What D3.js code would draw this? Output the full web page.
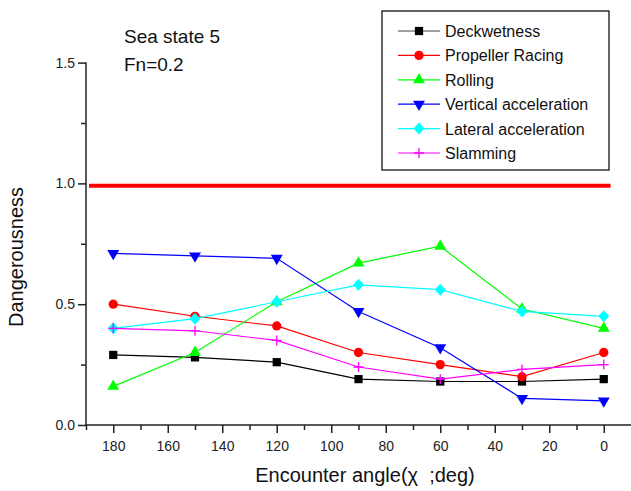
<!DOCTYPE html>
<html>
<head>
<meta charset="utf-8">
<script src="https://cdn.jsdelivr.net/npm/d3@7"></script>
<style>
  body { margin: 0; background: #fff; }
  text { font-family: "Liberation Sans", Arial, sans-serif; }
</style>
</head>
<body>
<div id="chart"></div>
<script>
const svgWidth = 631;
const svgHeight = 491;

// data
const angles = [180, 150, 120, 90, 60, 30, 0];
const deckwetness = [0.29, 0.28, 0.26, 0.19, 0.18, 0.18, 0.19];
const propellerRacing = [0.50, 0.45, 0.41, 0.30, 0.25, 0.20, 0.30];
const rolling = [0.16, 0.30, 0.51, 0.67, 0.74, 0.48, 0.40];
const verticalAcc = [0.71, 0.70, 0.69, 0.47, 0.32, 0.11, 0.10];
const lateralAcc = [0.40, 0.44, 0.51, 0.58, 0.56, 0.47, 0.45];
const slamming = [0.40, 0.39, 0.35, 0.24, 0.19, 0.23, 0.25];
const limitLevel = 0.99;
const limitSpan = [190, -2.5];

const xMajorTicks = [180, 160, 140, 120, 100, 80, 60, 40, 20, 0];
const xMinorTicks = [190, 170, 150, 130, 110, 90, 70, 50, 30, 10];
const yMajorTicks = [0, 0.5, 1.0, 1.5];
const yMinorTicks = [0.25, 0.75, 1.25];

const seriesNames = ['Deckwetness', 'Propeller Racing', 'Rolling', 'Vertical acceleration', 'Lateral acceleration', 'Slamming'];
const seriesValues = [deckwetness, propellerRacing, rolling, verticalAcc, lateralAcc, slamming];
const seriesColors = ['#000000', '#ff0000', '#00ff00', '#0000ff', '#00ffff', '#ff00ff'];
const seriesMarkers = ['square', 'circle', 'triangle', 'triangleDown', 'diamond', 'plus'];

const x = d3.scaleLinear().domain([190, -10]).range([86, 631]);
const y = d3.scaleLinear().domain([0, 1.5]).range([425, 62.6]);

const svg = d3.select('#chart')
    .append('svg')
    .attr('width', svgWidth)
    .attr('height', svgHeight);

// marker paths
function markerPath(kind) {
    if (kind === 'square') return d3.symbol(d3.symbolSquare, 68)();
    if (kind === 'circle') return d3.symbol(d3.symbolCircle, 68)();
    if (kind === 'triangle') return d3.symbol(d3.symbolTriangle, 62)();
    if (kind === 'triangleDown') return d3.symbol(d3.symbolTriangle, 62)();
    if (kind === 'diamond') return 'M0,-6L5.5,0L0,6L-5.5,0Z';
    return 'M-5,0H5M0,-5V5';
}

function drawMarker(g, kind, color) {
    const p = g.append('path').attr('d', markerPath(kind));
    if (kind === 'plus') {
        p.attr('fill', 'none').attr('stroke', color).attr('stroke-width', 1.3);
    } else {
        p.attr('fill', color);
    }
    if (kind === 'triangleDown') p.attr('transform', 'rotate(180)');
}

// axes
const axisColor = '#222';

const xAxis = svg.append('g').attr('transform', `translate(0,${y(0)})`)
    .call(d3.axisBottom(x).tickValues(xMajorTicks).tickSize(8).tickPadding(8).tickFormat(d3.format('d')));
const xMinor = svg.append('g').attr('transform', `translate(0,${y(0)})`)
    .call(d3.axisBottom(x).tickValues(xMinorTicks).tickSize(5).tickFormat(''));
xMinor.select('.domain').remove();

const yAxis = svg.append('g').attr('transform', `translate(${x(190)},0)`)
    .call(d3.axisLeft(y).tickValues(yMajorTicks).tickSize(8).tickPadding(3).tickFormat(d3.format('.1f')));
const yMinor = svg.append('g').attr('transform', `translate(${x(190)},0)`)
    .call(d3.axisLeft(y).tickValues(yMinorTicks).tickSize(5).tickFormat(''));
yMinor.select('.domain').remove();

[xAxis, yAxis, xMinor, yMinor].forEach(a => {
    a.selectAll('path, line').attr('stroke', axisColor).attr('stroke-width', 1.5);
    a.selectAll('.domain').attr('d', null);
    a.selectAll('text').attr('font-size', 14).attr('fill', '#222')
        .attr('font-family', '"Liberation Sans", Arial, sans-serif');
});
xAxis.select('.domain').attr('d', `M${x(190) - 1},0H${x(-10)}`);
yAxis.select('.domain').attr('d', `M0,${y(1.5)}V${y(0)}`);

// axis titles
svg.append('text')
    .attr('x', 365).attr('y', 482)
    .attr('text-anchor', 'middle')
    .attr('font-size', 20)
    .attr('fill', '#111')
    .style('white-space', 'pre')
    .text('Encounter angle(χ  ;deg)');

svg.append('text')
    .attr('transform', 'translate(23,257) rotate(-90)')
    .attr('text-anchor', 'middle')
    .attr('font-size', 20)
    .attr('fill', '#111')
    .text('Dangerousness');

svg.append('text').attr('x', 124).attr('y', 43).attr('font-size', 19).attr('fill', '#111').text('Sea state 5');
svg.append('text').attr('x', 124).attr('y', 71).attr('font-size', 19).attr('fill', '#111').text('Fn=0.2');

// limit line
svg.append('line')
    .attr('x1', x(limitSpan[0]) + 3).attr('x2', x(limitSpan[1]))
    .attr('y1', y(limitLevel)).attr('y2', y(limitLevel))
    .attr('stroke', '#ff0000')
    .attr('stroke-width', 4);

// series
const line = d3.line().x((d, i) => x(angles[i])).y(d => y(d));

seriesValues.forEach((vals, k) => {
    const g = svg.append('g').classed('series', true);
    g.append('path')
        .datum(vals)
        .attr('d', line)
        .attr('fill', 'none')
        .attr('stroke', seriesColors[k])
        .attr('stroke-width', 1.2);
    vals.forEach((v, i) => {
        const m = g.append('g').attr('transform', `translate(${x(angles[i])},${y(v)})`);
        drawMarker(m, seriesMarkers[k], seriesColors[k]);
    });
});

// legend
const legend = svg.append('g');
legend.append('rect')
    .attr('x', 382).attr('y', 11)
    .attr('width', 227).attr('height', 159)
    .attr('fill', '#fff')
    .attr('stroke', '#111')
    .attr('stroke-width', 1.3);

seriesNames.forEach((name, k) => {
    const row = legend.append('g').attr('transform', `translate(0,${31 + k * 24.4})`);
    row.append('line')
        .attr('x1', 398).attr('x2', 440)
        .attr('stroke', seriesColors[k] === '#000000' ? '#444' : seriesColors[k])
        .attr('stroke-width', 1.2);
    const m = row.append('g').attr('transform', 'translate(419,0)');
    drawMarker(m, seriesMarkers[k], seriesColors[k]);
    row.append('text')
        .attr('x', 445).attr('y', 6)
        .attr('font-size', 16)
        .attr('fill', '#111')
        .text(name);
});
</script>
</body>
</html>
